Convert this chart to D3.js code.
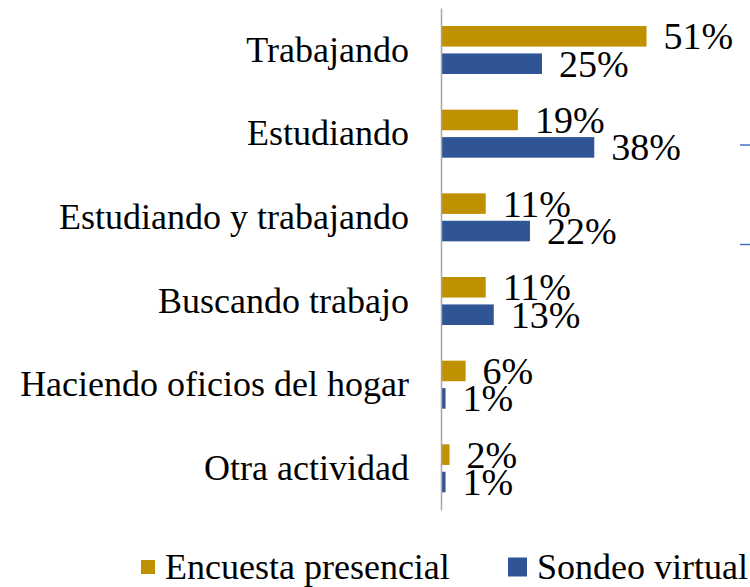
<!DOCTYPE html>
<html>
<head>
<meta charset="utf-8">
<script src="https://cdn.jsdelivr.net/npm/d3@7"></script>
<style>
  body { margin: 0; background: #fff; }
  svg { display: block; font-family: "Liberation Serif", "Times New Roman", serif; }
</style>
</head>
<body>
<svg id="chart" width="750" height="587"></svg>
<script>
var categories = ["Trabajando", "Estudiando", "Estudiando y trabajando",
                  "Buscando trabajo", "Haciendo oficios del hogar", "Otra actividad"];
var seriesNames = ["Encuesta presencial", "Sondeo virtual"];
var presencial = [51, 19, 11, 11, 6, 2];
var virtual = [25, 38, 22, 13, 1, 1];
var colors = ["#BF9000", "#2F5597"];

var svg = d3.select("#chart");

var x = d3.scaleLinear().domain([0, 100]).range([441.5, 843.5]);
var y = d3.scaleBand().domain(categories).range([8, 510]);
var ySub = d3.scaleBand().domain(seriesNames).range([18, 66]).paddingInner(0.25);

var rows = [];
categories.forEach(function(c, i) {
    rows.push({ cat: c, series: seriesNames[0], value: presencial[i], color: colors[0] });
    rows.push({ cat: c, series: seriesNames[1], value: virtual[i], color: colors[1] });
});

// bars
svg.append("g").selectAll("rect")
    .data(rows)
    .enter()
    .append("rect")
    .attr("x", x(0))
    .attr("y", function(d) { return y(d.cat) + ySub(d.series); })
    .attr("width", function(d) { return x(d.value) - x(0); })
    .attr("height", ySub.bandwidth())
    .attr("fill", function(d) { return d.color; });

// value labels
svg.append("g").selectAll("text")
    .data(rows)
    .enter()
    .append("text")
    .attr("x", function(d) { return x(d.value) + 17; })
    .attr("y", function(d) { return y(d.cat) + ySub(d.series) + ySub.bandwidth() / 2 + 13; })
    .attr("font-size", 38)
    .attr("fill", "#000")
    .text(function(d) { return d.value + "%"; });

// category axis
var axis = svg.append("g")
    .attr("transform", "translate(" + 441 + ",0)")
    .call(d3.axisLeft(y).tickSize(0).tickPadding(32));
axis.select(".domain").attr("stroke", "#A6A6A6").attr("stroke-width", 1.5);
axis.selectAll("text")
    .attr("font-family", "Liberation Serif, serif")
    .attr("font-size", 36)
    .attr("fill", "#000")
    .attr("dy", "0.33em");

// stray line fragments at the right edge
svg.append("g").selectAll("line")
    .data([145, 244.5])
    .enter()
    .append("line")
    .attr("x1", 740).attr("x2", 750)
    .attr("y1", function(d) { return d; })
    .attr("y2", function(d) { return d; })
    .attr("stroke", "#4472C4")
    .attr("stroke-width", 1.5);

// legend
var legendX = [141, 508];
var swatch = [14, 19];
var legend = svg.append("g").selectAll("g")
    .data(seriesNames)
    .enter()
    .append("g")
    .attr("transform", function(d, i) { return "translate(" + legendX[i] + ",0)"; });
legend.append("rect")
    .attr("x", 0)
    .attr("y", function(d, i) { return 567 - swatch[i] / 2; })
    .attr("width", function(d, i) { return swatch[i]; })
    .attr("height", function(d, i) { return swatch[i]; })
    .attr("fill", function(d, i) { return colors[i]; });
legend.append("text")
    .attr("x", function(d, i) { return swatch[i] + 10; })
    .attr("y", 579)
    .attr("font-size", 36)
    .attr("fill", "#000")
    .text(function(d) { return d; });
</script>
</body>
</html>
